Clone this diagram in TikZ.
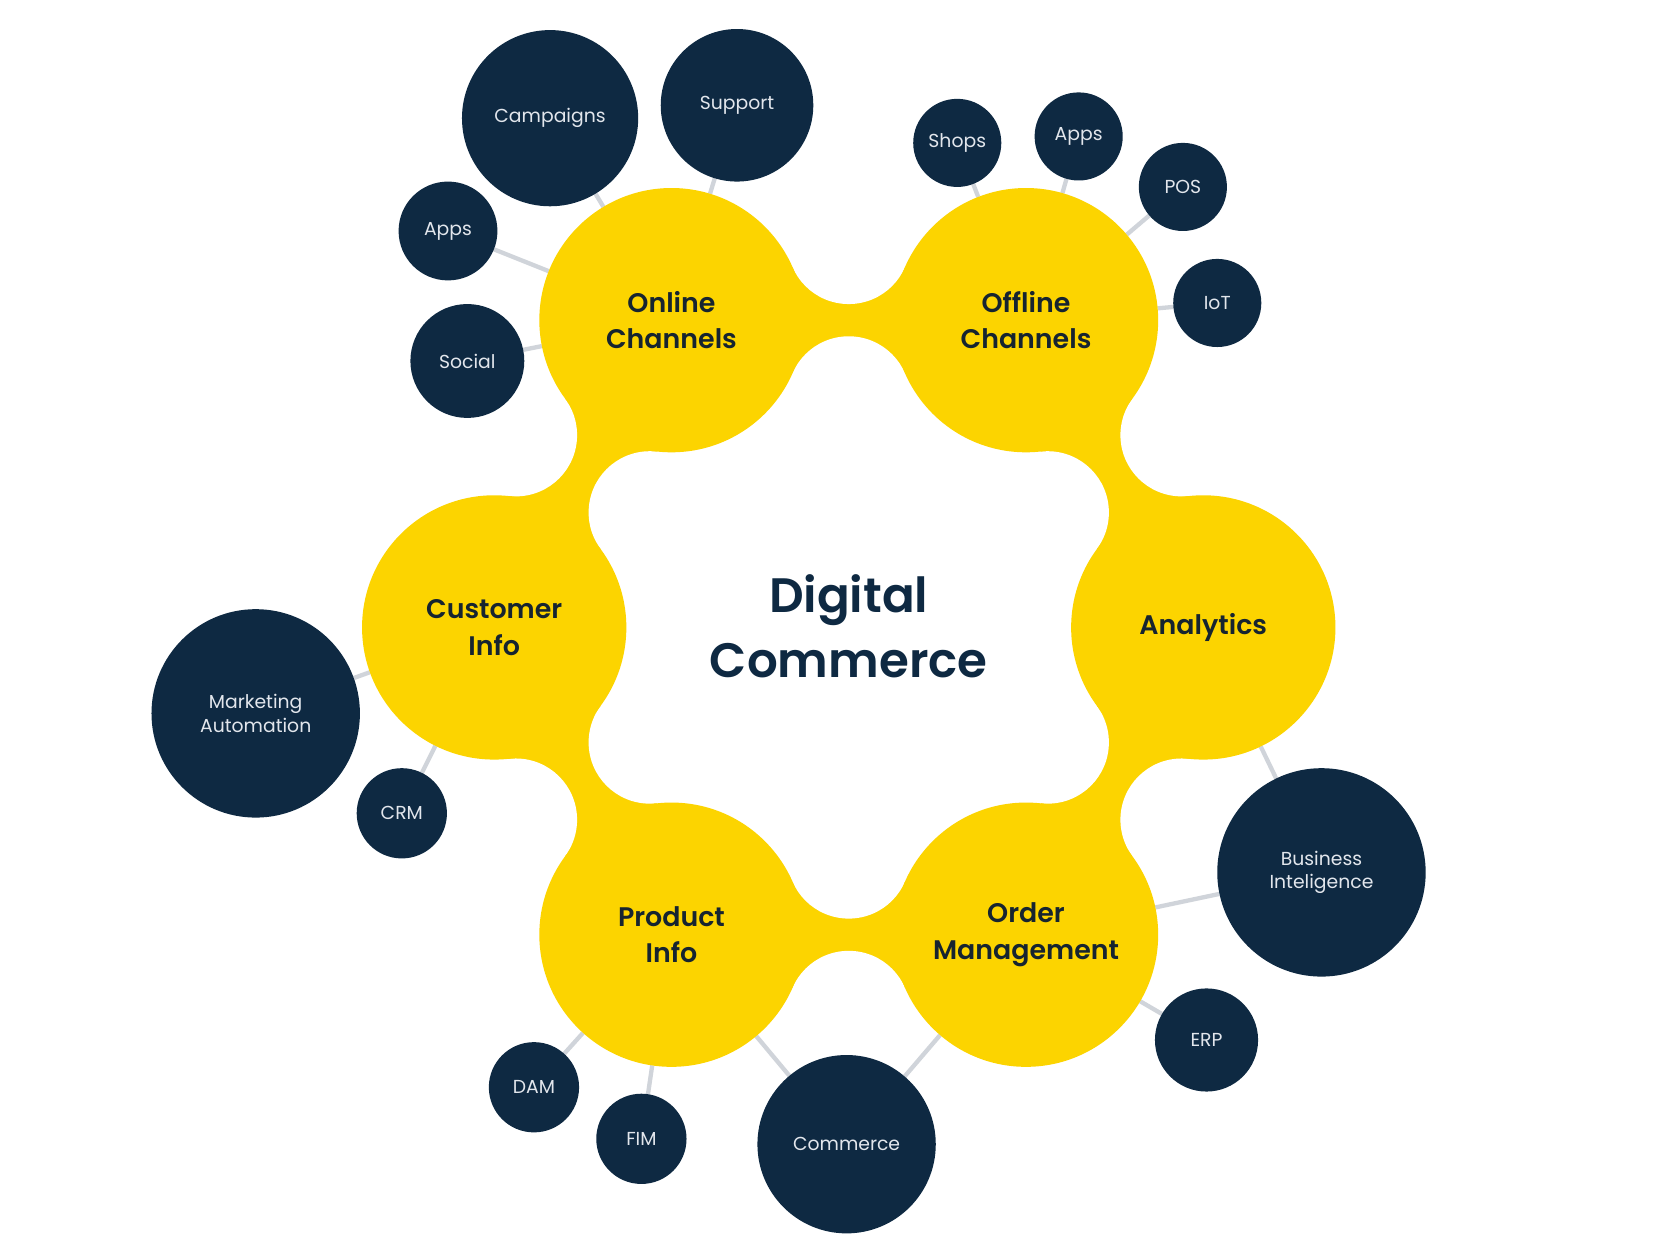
\documentclass[tikz,border=0pt]{standalone}
\usepackage{fontspec}
\setmainfont{Poppins}
\newfontfamily\medfont{Poppins SemiBold}
\usetikzlibrary{calc}
\pgfdeclarelayer{back}
\pgfsetlayers{back,main}
\definecolor{ylw}{RGB}{252,212,0}
\definecolor{navy}{RGB}{14,41,66}
\definecolor{ink}{RGB}{22,36,48}
\definecolor{lnk}{RGB}{208,212,218}
\definecolor{lbl}{RGB}{226,230,236}
\newcommand\bridge[2]{%
  \coordinate (m) at ($(#1)!0.5!(#2)$);
  \coordinate (c1) at ($(m)!72pt!90:(#2)$);
  \coordinate (c2) at ($(m)!72pt!-90:(#2)$);
  \fill[ylw] (#1.center) -- (c1) -- (#2.center) -- (c2) -- cycle;
  \fill[white] (c1) circle[radius=57pt] (c2) circle[radius=57pt];
}
\begin{document}
\begin{tikzpicture}[x=1pt,y=-1pt,
  hub/.style={circle,fill=ylw,minimum size=246pt,inner sep=0pt,outer sep=0pt,align=center,text=ink,
    font=\fontsize{25}{34}\selectfont\medfont},
  leaf/.style={circle,fill=navy,inner sep=0pt,outer sep=0pt,align=center,text=lbl,
    font=\fontsize{17.5}{22}\selectfont},
  link/.style={draw=lnk,line width=4pt}]
\useasboundingbox (0,0) rectangle (1560,1156);

% hubs
\node[hub] (on)  at (625,298) {Online\\Channels};
\node[hub] (off) at (955,298) {Offline\\Channels};
\node[hub] (cus) at (460,584) {Customer\\Info};
\node[hub] (ana) at (1120,584) {Analytics};
\node[hub] (pro) at (625,870) {Product\\Info};
\node[hub] (ord) at (955,870) {Order\\Management};

% centre
\node[text=navy,align=center,font=\fontsize{45}{60}\selectfont\medfont] (dc) at (790,583) {Digital\\Commerce};

% leaves
\node[leaf,minimum size=164pt] (camp)  at (512,110) {Campaigns};
\node[leaf,minimum size=142pt] (supp)  at (686,98)  {Support};
\node[leaf,minimum size=92pt]  (appsl) at (417,215) {Apps};
\node[leaf,minimum size=106pt] (soc)   at (435,336) {Social};
\node[leaf,minimum size=82pt]  (shops) at (891,133) {Shops};
\node[leaf,minimum size=82pt]  (appsr) at (1004,127) {Apps};
\node[leaf,minimum size=82pt]  (pos)   at (1101,174) {POS};
\node[leaf,minimum size=82pt]  (iot)   at (1133,282) {IoT};
\node[leaf,minimum size=194pt] (mkt)   at (238,664) {Marketing\\Automation};
\node[leaf,minimum size=84pt]  (crm)   at (374,757) {CRM};
\node[leaf,minimum size=194pt] (bi)    at (1230,812) {Business\\Inteligence};
\node[leaf,minimum size=96pt]  (erp)   at (1123,968) {ERP};
\node[leaf,minimum size=84pt]  (dam)   at (497,1012) {DAM};
\node[leaf,minimum size=84pt]  (fim)   at (597,1060) {FIM};
\node[leaf,minimum size=166pt] (comm)  at (788,1065) {Commerce};

\begin{pgfonlayer}{back}
  \fill[white] (0,0) rectangle (1560,1156);
  \bridge{on}{off}
  \bridge{off}{ana}
  \bridge{ana}{ord}
  \bridge{ord}{pro}
  \bridge{pro}{cus}
  \bridge{cus}{on}
  \draw[link] (camp) -- (on);
  \draw[link] (supp) -- (on);
  \draw[link] (appsl) -- (on);
  \draw[link] (soc) -- (on);
  \draw[link] (shops) -- (off);
  \draw[link] (appsr) -- (off);
  \draw[link] (pos) -- (off);
  \draw[link] (iot) -- (off);
  \draw[link] (mkt) -- (cus);
  \draw[link] (crm) -- (cus);
  \draw[link] (bi) -- (ana);
  \draw[link] (bi) -- (ord);
  \draw[link] (erp) -- (ord);
  \draw[link] (comm) -- (ord);
  \draw[link] (comm) -- (pro);
  \draw[link] (dam) -- (pro);
  \draw[link] (fim) -- (pro);
\end{pgfonlayer}
\end{tikzpicture}
\end{document}
